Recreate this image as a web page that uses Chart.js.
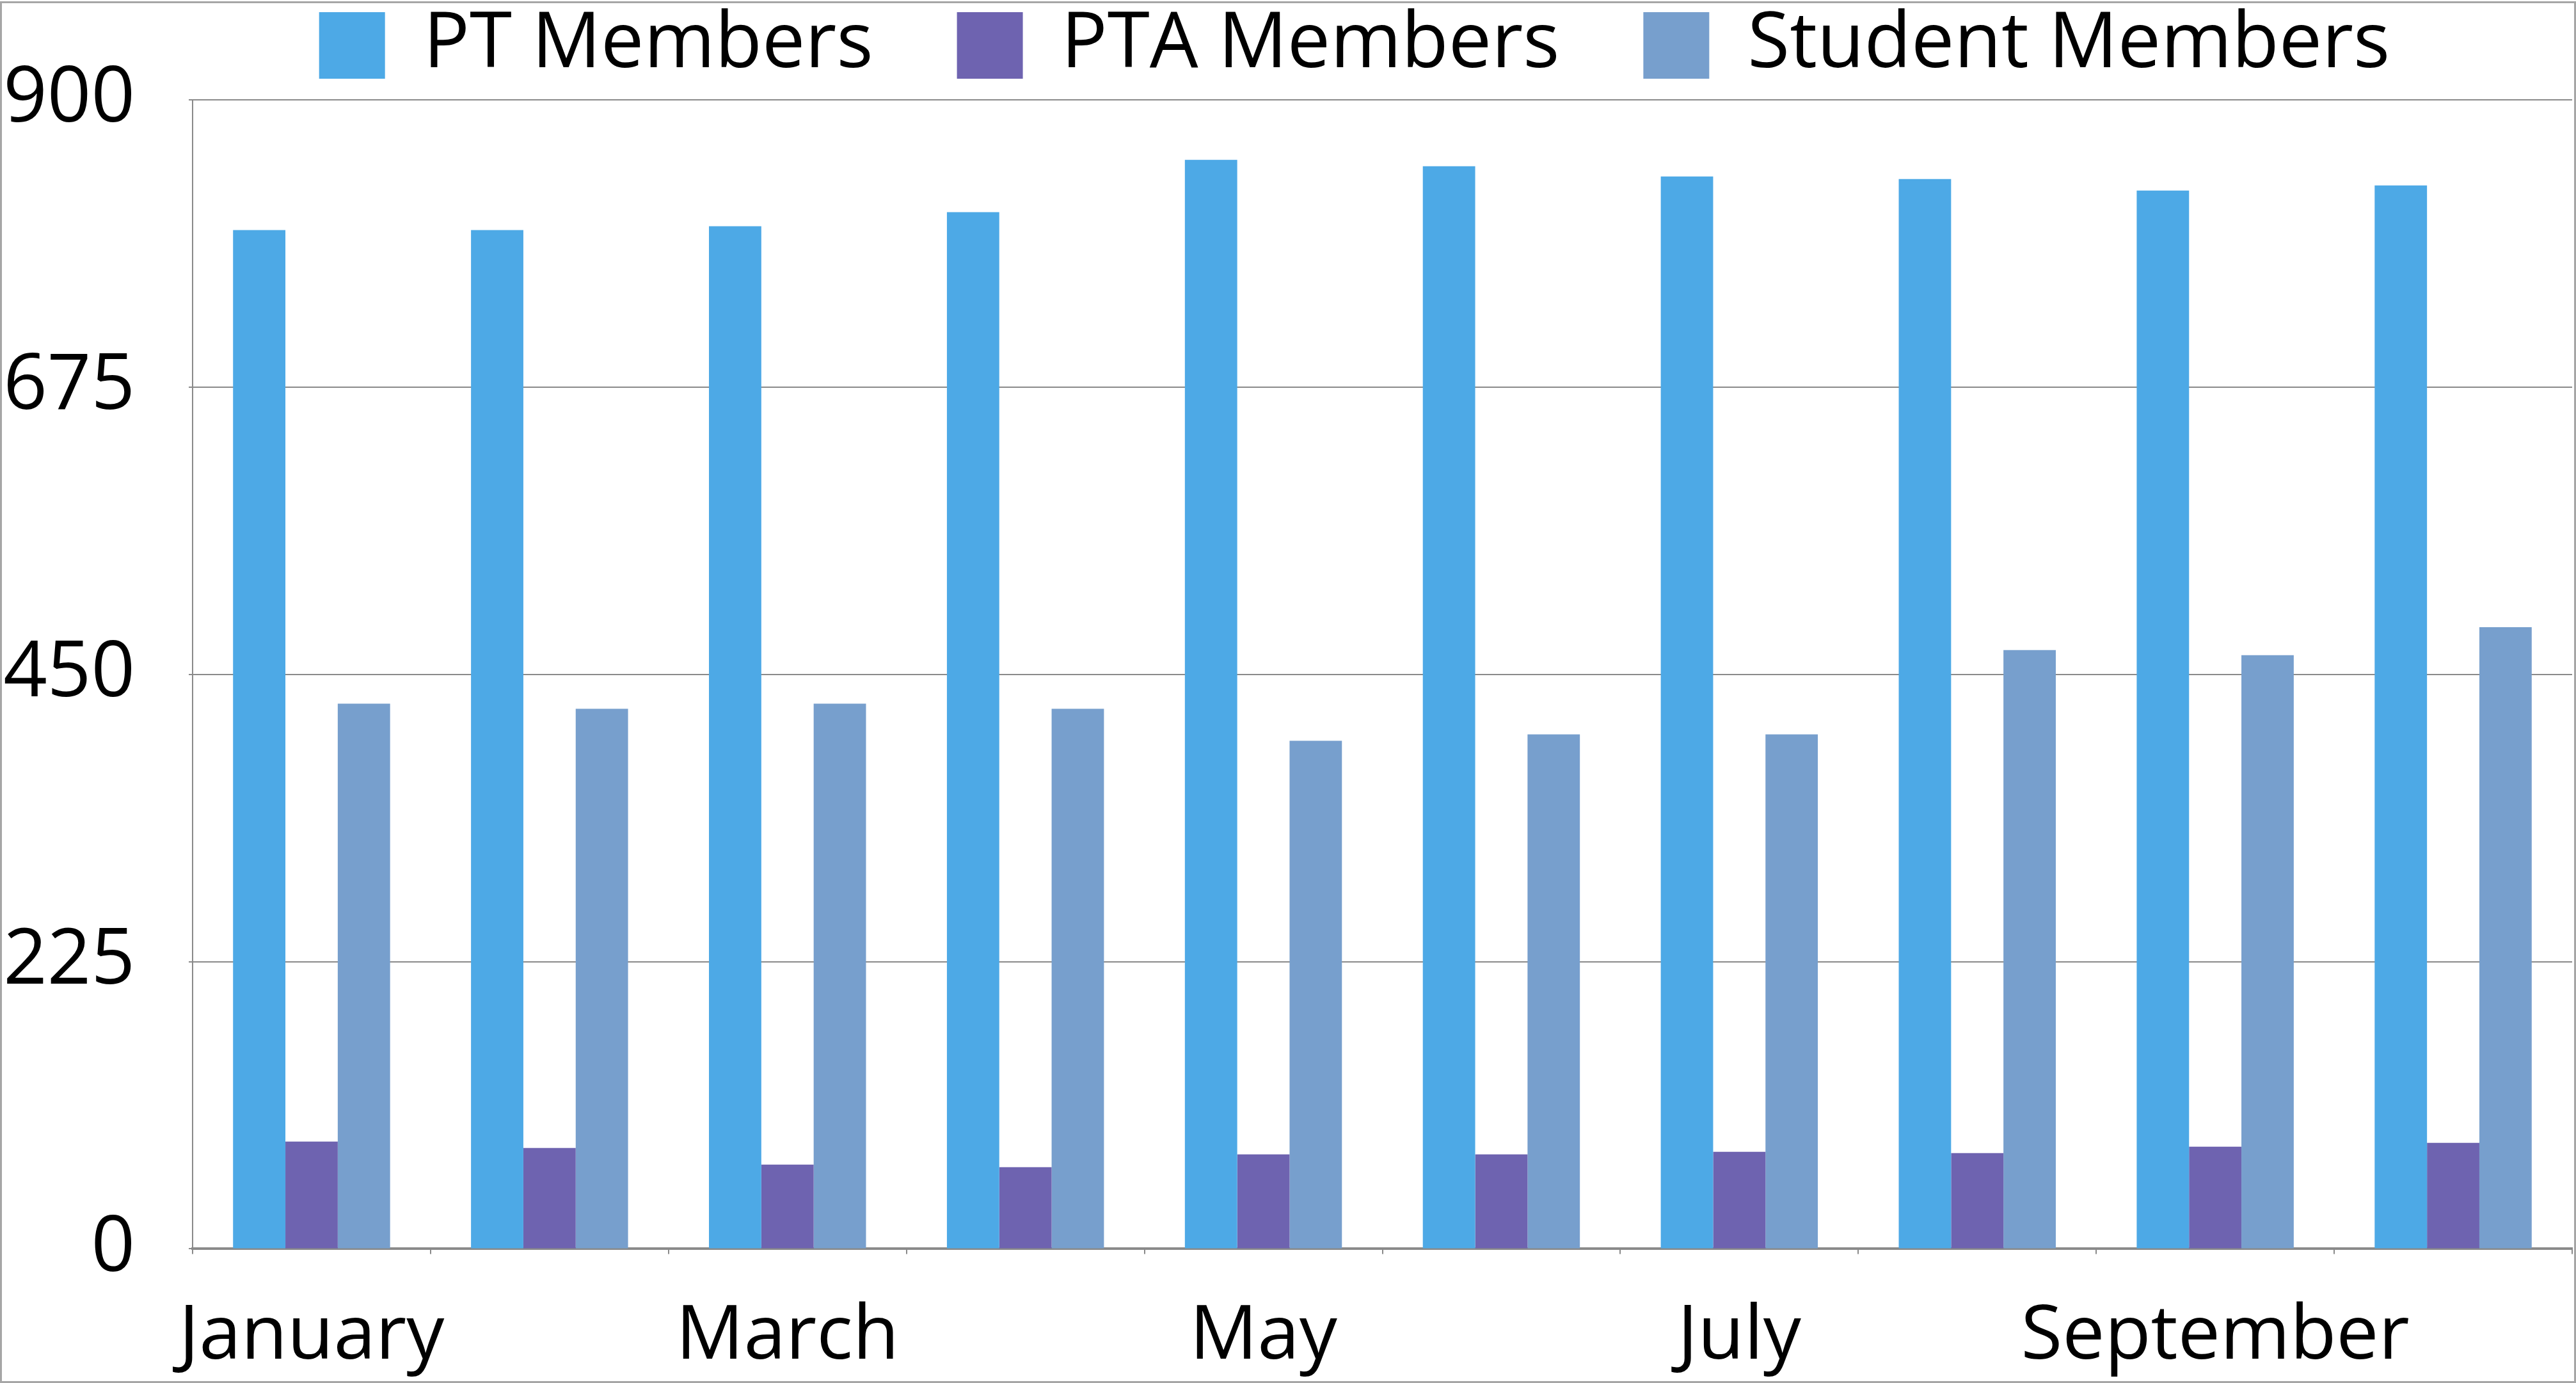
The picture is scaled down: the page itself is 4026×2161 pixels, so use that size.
<!DOCTYPE html>
<html>
<head>
<meta charset="utf-8">
<script src="https://cdn.jsdelivr.net/npm/chart.js@4.4.1/dist/chart.umd.min.js"></script>
<style>
  html, body { margin: 0; padding: 0; background: #fff; }
  #wrap { width: 4026px; height: 2161px; position: relative; }
</style>
</head>
<body>
<div id="wrap"><canvas id="myChart"></canvas></div>
<script>
  // months on the x axis
  const months = ['January', 'February', 'March', 'April', 'May', 'June',
    'July', 'August', 'September', 'October'];

  const ptMembers = [798, 798, 801, 812, 853, 848, 840, 838, 829, 833];
  const ptaMembers = [84, 79, 66, 64, 74, 74, 76, 75, 80, 83];
  const studentMembers = [427, 423, 427, 423, 398, 403, 403, 469, 465, 487];

  const yTicks = [0, 225, 450, 675, 900];

  const gridGray = '#8a8a8a';
  const fontFam = "'Open Sans', 'DejaVu Sans', sans-serif";

  // white background + thin outer frame
  const frame = {
    id: 'frame',
    beforeDraw(chart) {
      const c = chart.ctx;
      c.save();
      c.fillStyle = '#fff';
      c.fillRect(0, 0, chart.width, chart.height);
      c.restore();
    },
    afterDraw(chart) {
      const c = chart.ctx;
      c.save();
      c.strokeStyle = '#a6a6a6';
      c.lineWidth = 3;
      c.strokeRect(1.5, 3.5, chart.width - 3, chart.height - 5);
      c.restore();
    }
  };

  // legend sits higher and a bit to the right than chart.js puts it
  const moveLegend = {
    id: 'moveLegend',
    afterLayout(chart) {
      const lg = chart.legend;
      lg.left = 104;
      lg.right = chart.width + 104;
      lg.top = -120;
      lg.bottom = 150;
    }
  };

  const ctx = document.getElementById('myChart');

  new Chart(ctx, {
    type: 'bar',
    data: {
      labels: months,
      datasets: [{
        label: 'PT Members',
        data: ptMembers,
        backgroundColor: '#4da9e6',
        borderWidth: 0
      }, {
        label: 'PTA Members',
        data: ptaMembers,
        backgroundColor: '#6e63b0',
        borderWidth: 0
      }, {
        label: 'Student Members',
        data: studentMembers,
        backgroundColor: '#779fcd',
        borderWidth: 0
      }]
    },
    options: {
      responsive: true,
      maintainAspectRatio: false,
      animation: false,
      layout: { padding: { top: 0, left: 4, right: 6, bottom: -58 } },
      datasets: {
        bar: { barPercentage: 1.0, categoryPercentage: 0.66 }
      },
      plugins: {
        tooltip: { enabled: false },
        legend: {
          position: 'top',
          maxHeight: 141,
          labels: {
            boxWidth: 103,
            boxHeight: 104,
            padding: 131,
            color: '#000',
            font: { family: fontFam, size: 120 }
          }
        }
      },
      scales: {
        x: {
          afterFit: function(scale) {
            scale.paddingLeft = 0;
            scale.paddingRight = 0;
          },
          grid: {
            offset: true,
            drawOnChartArea: false,
            drawTicks: true,
            tickLength: 8,
            color: gridGray,
            lineWidth: 2
          },
          border: { display: true, color: gridGray, width: 4 },
          ticks: {
            autoSkip: false,
            maxRotation: 0,
            padding: 59,
            color: '#000',
            font: { family: fontFam, size: 118 },
            callback: function(val, i) {
              return i % 2 === 0 ? months[i] : '';
            }
          }
        },
        y: {
          min: yTicks[0],
          max: yTicks[yTicks.length - 1],
          afterBuildTicks: function(axis) {
            axis.ticks = yTicks.map(v => ({ value: v }));
          },
          afterFit: function(scale) {
            scale.width = 297;
          },
          grid: {
            color: gridGray,
            lineWidth: 2,
            tickLength: 6
          },
          border: { display: true, color: gridGray, width: 2 },
          ticks: {
            padding: 84,
            color: '#000',
            font: { family: fontFam, size: 120 }
          }
        }
      }
    },
    plugins: [frame, moveLegend]
  });
</script>
</body>
</html>
